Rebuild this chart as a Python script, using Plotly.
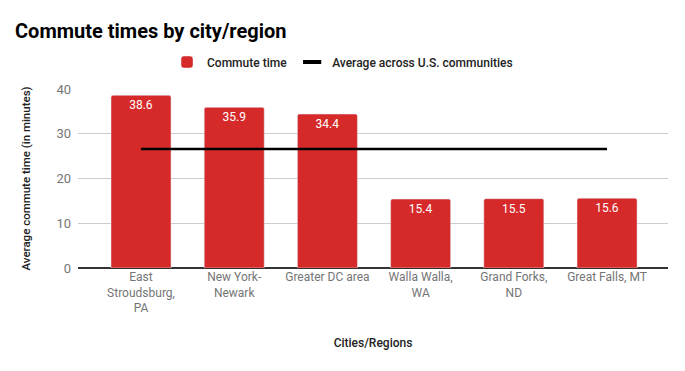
import plotly.graph_objects as go

categories = ["East<br>Stroudsburg,<br>PA", "New York-<br>Newark", "Greater DC area",
              "Walla Walla,<br>WA", "Grand Forks,<br>ND", "Great Falls, MT"]
commute = [38.6, 35.9, 34.4, 15.4, 15.5, 15.6]
average = [26.6, 26.6, 26.6, 26.6, 26.6, 26.6]
y_ticks = [0, 10, 20, 30, 40]

FONT = "Roboto"
fig = go.Figure()
fig.add_trace(go.Bar(
    x=categories, y=commute, name="Commute time",
    marker=dict(color="#d62a2a", cornerradius=2),
    text=[f"{v:.1f}" for v in commute], textposition="inside",
    insidetextanchor="end", textangle=0,
    textfont=dict(color="white", size=12, family=FONT),
    hoverinfo="skip",
))
fig.add_trace(go.Scatter(
    x=categories, y=average, name="Average across U.S. communities",
    mode="lines", line=dict(color="black", width=2.5), showlegend=False,
))
fig.add_trace(go.Scatter(
    x=[None], y=[None], name="Average across U.S. communities",
    mode="markers", marker=dict(symbol="line-ew-open", size=13, color="black",
                                line=dict(color="black", width=4)),
))

fig.update_layout(
    width=685, height=371,
    margin=dict(l=78, r=17, t=89, b=103),
    paper_bgcolor="white", plot_bgcolor="white",
    font=dict(family=FONT, size=12, color="#757575"),
    title=dict(text="Commute times by city/region", x=0, xref="container",
               xanchor="left", y=1, yref="container", yanchor="top", pad=dict(l=15, t=24),
               font=dict(size=20, color="black", family=FONT, weight=700)),
    legend=dict(orientation="h", xref="container", x=0.5, xanchor="center",
                yref="container", y=(371-62)/371, yanchor="middle",
                font=dict(size=12, color="#222222", family=FONT, weight=500), itemwidth=30,
                traceorder="normal"),
    bargap=0.356,
    showlegend=True,
)
fig.update_xaxes(range=[-0.676, 5.654], showgrid=False, ticks="", automargin=False,
                 title=dict(text="Cities/Regions", standoff=24,
                            font=dict(size=12, color="#222222", weight=500)),
                 tickfont=dict(size=12, color="#757575"))
fig.update_yaxes(range=[0, 40], tickvals=y_ticks, gridcolor="#cccccc", gridwidth=1,
                 zeroline=True, zerolinecolor="#333333", zerolinewidth=1.5, automargin=False,
                 title=dict(text="Average commute time (in minutes)", standoff=23,
                            font=dict(size=11.5, color="#222222", weight=500)),
                 tickfont=dict(size=13, color="#757575"), ticks="", ticklabelstandoff=6)

fig.write_html("out.html", config={"displayModeBar": False},
               post_script="document.body.style.margin='0';")
